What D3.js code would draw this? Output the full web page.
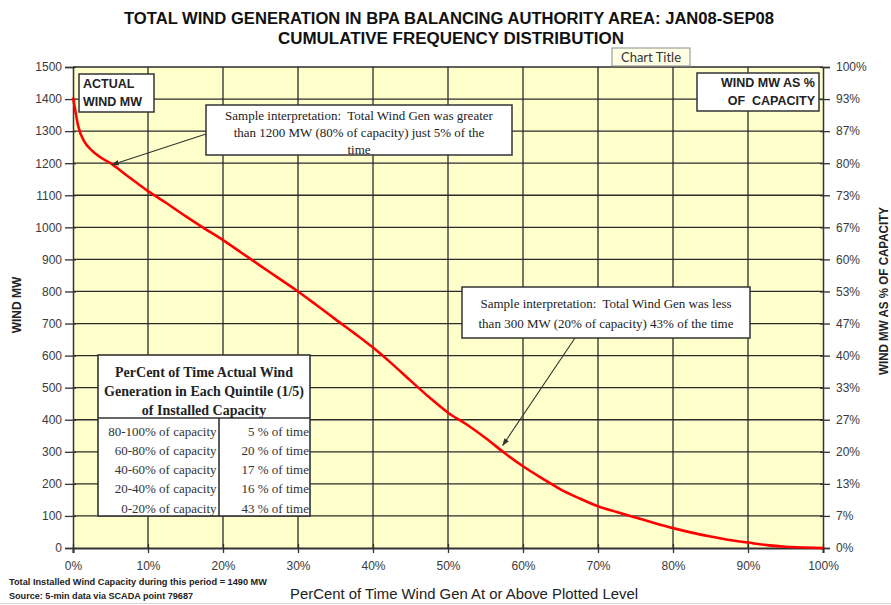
<!DOCTYPE html>
<html>
<head>
<meta charset="utf-8">
<script src="https://cdn.jsdelivr.net/npm/d3@7"></script>
<style>
  html, body { margin: 0; padding: 0; background: #fff; }
  svg { display: block; }
</style>
</head>
<body>
<svg id="chart" width="891" height="605"></svg>
<script>
// ---------------- DATA ----------------
const pctTime = [0, 0.3, 0.7, 1.5, 2.5, 3.5, 5, 7, 10, 12.5, 15, 17.5, 20, 22.5, 25, 27.5, 30, 32.5, 35, 37.5, 40, 42.5, 45, 47.5, 50, 52.5, 55, 57.5, 60, 62.5, 65, 67.5, 70, 72.5, 75, 77.5, 80, 82.5, 85, 87.5, 90, 92.5, 95, 97.5, 100];
const windMW  = [1405, 1365, 1315, 1268, 1240, 1221, 1200, 1165, 1113, 1075, 1035, 997, 960, 920, 880, 840, 800, 757, 713, 670, 625, 575, 522, 470, 422, 385, 343, 297, 255, 218, 183, 155, 130, 112, 95, 78, 62, 48, 36, 25, 17, 9, 4, 1.5, 0];

const yTickValues = [0, 100, 200, 300, 400, 500, 600, 700, 800, 900, 1000, 1100, 1200, 1300, 1400, 1500];
const leftTickLabels = ["0", "100", "200", "300", "400", "500", "600", "700", "800", "900", "1000", "1100", "1200", "1300", "1400", "1500"];
const rightTickLabels = ["0%", "7%", "13%", "20%", "27%", "33%", "40%", "47%", "53%", "60%", "67%", "73%", "80%", "87%", "93%", "100%"];
const xTickValues = [0, 10, 20, 30, 40, 50, 60, 70, 80, 90, 100];
const xTickLabels = ["0%", "10%", "20%", "30%", "40%", "50%", "60%", "70%", "80%", "90%", "100%"];

const quintileRanges = ["80-100% of capacity", "60-80% of capacity", "40-60% of capacity", "20-40% of capacity", "0-20% of capacity"];
const quintileTimes  = ["5 % of time", "20 % of time", "17 % of time", "16 % of time", "43 % of time"];

const titleLines = ["TOTAL WIND GENERATION IN BPA BALANCING AUTHORITY AREA: JAN08-SEP08", "CUMULATIVE FREQUENCY DISTRIBUTION"];
const note1Lines = ["Sample interpretation:  Total Wind Gen was greater", "than 1200 MW (80% of capacity) just 5% of the", "time"];
const note2Lines = ["Sample interpretation:  Total Wind Gen was less", "than 300 MW (20% of capacity) 43% of the time"];
const tableHeader = ["PerCent of Time Actual Wind", "Generation in Each Quintile (1/5)", "of Installed Capacity"];

// ---------------- LAYOUT ----------------
const svg = d3.select("#chart");
const X0 = 73, X1 = 823, Y0 = 548, Y1 = 67;
const x = d3.scaleLinear().domain([0, 100]).range([X0, X1]);
const y = d3.scaleLinear().domain([0, 1500]).range([Y0, Y1]);

const SANS = "'Liberation Sans', Arial, sans-serif";
const NARROW = "'Liberation Sans Narrow', 'Liberation Sans', Arial, sans-serif";
const SERIF = "'Liberation Serif', 'Times New Roman', serif";

// Arrow marker
svg.append("defs").append("marker")
  .attr("id", "arrow").attr("viewBox", "0 0 10 10")
  .attr("refX", 9).attr("refY", 5)
  .attr("markerWidth", 7).attr("markerHeight", 7)
  .attr("orient", "auto")
  .append("path").attr("d", "M0,1.5 L10,5 L0,8.5 Z").attr("fill", "#333");

// Title
svg.append("text").attr("x", 449).attr("y", 24).attr("text-anchor", "middle")
  .attr("font-family", NARROW).attr("font-weight", "bold").attr("font-size", 16)
  .attr("fill", "#111").attr("textLength", 650).attr("lengthAdjust", "spacingAndGlyphs")
  .text(titleLines[0]);
svg.append("text").attr("x", 451).attr("y", 44).attr("text-anchor", "middle")
  .attr("font-family", NARROW).attr("font-weight", "bold").attr("font-size", 16)
  .attr("fill", "#111").attr("textLength", 346).attr("lengthAdjust", "spacingAndGlyphs")
  .text(titleLines[1]);

// Plot background
svg.append("rect").attr("x", X0).attr("y", Y1).attr("width", X1 - X0).attr("height", Y0 - Y1)
  .attr("fill", "#FFFFCC");

// Grid
const grid = svg.append("g").attr("stroke", "#2b2b2b").attr("stroke-width", 1.3);
grid.selectAll("line.h").data(yTickValues.filter(v => v > 0)).enter().append("line")
  .attr("x1", X0).attr("x2", X1).attr("y1", d => y(d)).attr("y2", d => y(d));
grid.selectAll("line.v").data(xTickValues.filter(v => v > 0 && v < 100)).enter().append("line")
  .attr("y1", Y1).attr("y2", Y0).attr("x1", d => x(d)).attr("x2", d => x(d));

// Left axis
const leftAxis = d3.axisLeft(y).tickValues(yTickValues).tickSize(8).tickPadding(3)
  .tickFormat((d, i) => leftTickLabels[i]);
const gL = svg.append("g").attr("transform", `translate(${X0},0)`).call(leftAxis);
gL.select(".domain").attr("stroke", "#333").attr("stroke-width", 1.5);
gL.selectAll(".tick line").attr("stroke", "#333").attr("stroke-width", 1.3).attr("x2", 3).attr("x1", -8);
gL.selectAll(".tick text").attr("font-family", SANS).attr("font-size", 12).attr("fill", "#3a3a3a");

// Right axis
const rightAxis = d3.axisRight(y).tickValues(yTickValues).tickSize(7).tickPadding(6)
  .tickFormat((d, i) => rightTickLabels[i]);
const gR = svg.append("g").attr("transform", `translate(${X1},0)`).call(rightAxis);
gR.select(".domain").attr("stroke", "#333").attr("stroke-width", 1.5);
gR.selectAll(".tick line").attr("stroke", "#333").attr("stroke-width", 1.3).attr("x1", -3);
gR.selectAll(".tick text").attr("font-family", SANS).attr("font-size", 12).attr("fill", "#3a3a3a");

// Bottom axis
const bottomAxis = d3.axisBottom(x).tickValues(xTickValues).tickSize(5).tickPadding(8)
  .tickFormat((d, i) => xTickLabels[i]);
const gB = svg.append("g").attr("transform", `translate(0,${Y0})`).call(bottomAxis);
gB.select(".domain").attr("stroke", "#333").attr("stroke-width", 2);
gB.selectAll(".tick line").attr("stroke", "#333").attr("stroke-width", 1.3).attr("y1", -4);
gB.selectAll(".tick text").attr("font-family", SANS).attr("font-size", 12).attr("fill", "#3a3a3a");

// Curve
const pts = pctTime.map((p, i) => [p, windMW[i]]);
svg.append("path").datum(pts)
  .attr("d", d3.line().x(d => x(d[0])).y(d => y(d[1])).curve(d3.curveMonotoneX))
  .attr("fill", "none").attr("stroke", "#FF0000").attr("stroke-width", 2.6)
  .attr("stroke-linejoin", "round");

// Axis titles
svg.append("text").attr("transform", "translate(21,305) rotate(-90)").attr("text-anchor", "middle")
  .attr("font-family", SANS).attr("font-weight", "bold").attr("font-size", 12).attr("fill", "#222")
  .text("WIND MW");
svg.append("text").attr("transform", "translate(888,291) rotate(-90)").attr("text-anchor", "middle")
  .attr("font-family", SANS).attr("font-weight", "bold").attr("font-size", 12).attr("fill", "#222")
  .attr("textLength", 168).attr("lengthAdjust", "spacingAndGlyphs")
  .text("WIND MW AS % OF CAPACITY");
svg.append("text").attr("x", 464).attr("y", 599).attr("text-anchor", "middle")
  .attr("font-family", SANS).attr("font-size", 14).attr("fill", "#222")
  .attr("textLength", 348).attr("lengthAdjust", "spacingAndGlyphs")
  .text("PerCent of Time Wind Gen At or Above Plotted Level");

// Footnotes
svg.append("text").attr("x", 9).attr("y", 585)
  .attr("font-family", NARROW).attr("font-weight", "bold").attr("font-size", 9).attr("fill", "#222")
  .attr("textLength", 258).attr("lengthAdjust", "spacingAndGlyphs")
  .text("Total Installed Wind Capacity during this period = 1490 MW");
svg.append("text").attr("x", 9).attr("y", 599)
  .attr("font-family", NARROW).attr("font-weight", "bold").attr("font-size", 9).attr("fill", "#222")
  .attr("textLength", 184).attr("lengthAdjust", "spacingAndGlyphs")
  .text("Source: 5-min data via SCADA point 79687");

// "Chart Title" tooltip box
svg.append("rect").attr("x", 612).attr("y", 48).attr("width", 78).attr("height", 18)
  .attr("fill", "#FFFFE6").attr("stroke", "#8a8a8a").attr("stroke-width", 1);
svg.append("text").attr("x", 651).attr("y", 62).attr("text-anchor", "middle")
  .attr("font-family", "Lato, 'Open Sans', sans-serif").attr("font-size", 13).attr("fill", "#333")
  .text("Chart Title");

// Label boxes
function box(bx, by, bw, bh) {
  svg.append("rect").attr("x", bx).attr("y", by).attr("width", bw).attr("height", bh)
    .attr("fill", "#fff").attr("stroke", "#333").attr("stroke-width", 1.5);
}
box(79, 74, 75, 38);
svg.append("text").attr("x", 83).attr("y", 88).attr("font-family", SANS).attr("font-weight", "bold")
  .attr("font-size", 12.5).attr("fill", "#222").text("ACTUAL");
svg.append("text").attr("x", 83).attr("y", 106).attr("font-family", SANS).attr("font-weight", "bold")
  .attr("font-size", 12.5).attr("fill", "#222").text("WIND MW");

box(697, 73, 122, 38);
svg.append("text").attr("x", 815).attr("y", 87).attr("text-anchor", "end").attr("font-family", SANS)
  .attr("font-weight", "bold").attr("font-size", 12.5).attr("fill", "#222").text("WIND MW AS %");
svg.append("text").attr("x", 815).attr("y", 105).attr("text-anchor", "end").attr("font-family", SANS)
  .attr("font-weight", "bold").attr("font-size", 12.5).attr("fill", "#222").attr("xml:space", "preserve")
  .text("OF  CAPACITY");

// Annotation 1
svg.append("line").attr("x1", 206).attr("y1", 134).attr("x2", x(5.2)).attr("y2", y(1195))
  .attr("stroke", "#333").attr("stroke-width", 1.1).attr("marker-end", "url(#arrow)");
box(206, 105, 306, 50);
note1Lines.forEach((t, i) => {
  svg.append("text").attr("x", 359).attr("y", 119.5 + i * 17).attr("text-anchor", "middle")
    .attr("font-family", SERIF).attr("font-size", 13).attr("fill", "#222").attr("xml:space", "preserve").text(t);
});

// Annotation 2
svg.append("line").attr("x1", 575).attr("y1", 338).attr("x2", x(57.3)).attr("y2", y(320))
  .attr("stroke", "#333").attr("stroke-width", 1.1).attr("marker-end", "url(#arrow)");
box(462, 287, 288, 51);
note2Lines.forEach((t, i) => {
  svg.append("text").attr("x", 606).attr("y", 308 + i * 20).attr("text-anchor", "middle")
    .attr("font-family", SERIF).attr("font-size", 13).attr("fill", "#222").attr("xml:space", "preserve").text(t);
});

// Quintile table
const TX = 98, TY = 355, TW = 212, TH = 161, HB = 418, CX = 219;
svg.append("rect").attr("x", TX).attr("y", TY).attr("width", TW).attr("height", TH)
  .attr("fill", "#fff").attr("stroke", "#333").attr("stroke-width", 1.6);
svg.append("line").attr("x1", TX).attr("x2", TX + TW).attr("y1", HB).attr("y2", HB)
  .attr("stroke", "#333").attr("stroke-width", 1.6);
svg.append("line").attr("x1", CX).attr("x2", CX).attr("y1", HB).attr("y2", TY + TH)
  .attr("stroke", "#333").attr("stroke-width", 1.6);
tableHeader.forEach((t, i) => {
  svg.append("text").attr("x", TX + TW / 2).attr("y", 377 + i * 19).attr("text-anchor", "middle")
    .attr("font-family", SERIF).attr("font-weight", "bold").attr("font-size", 14).attr("fill", "#222").text(t);
});
quintileRanges.forEach((t, i) => {
  svg.append("text").attr("x", 216.5).attr("y", 435.5 + i * 19.3).attr("text-anchor", "end")
    .attr("font-family", SERIF).attr("font-size", 13).attr("fill", "#333").text(t);
});
quintileTimes.forEach((t, i) => {
  svg.append("text").attr("x", 309).attr("y", 435.5 + i * 19.3).attr("text-anchor", "end")
    .attr("font-family", SERIF).attr("font-size", 13).attr("fill", "#333").text(t);
});

// bottom faint border
svg.append("line").attr("x1", 0).attr("x2", 891).attr("y1", 603.5).attr("y2", 603.5)
  .attr("stroke", "#d8d8d8").attr("stroke-width", 1);
</script>
</body>
</html>
